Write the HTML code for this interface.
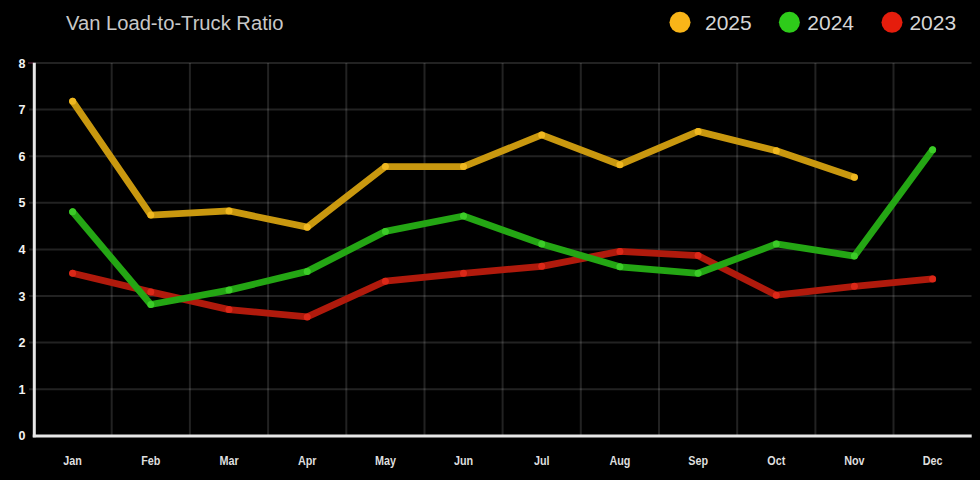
<!DOCTYPE html>
<html><head><meta charset="utf-8"><style>
html,body{margin:0;padding:0;background:#000;width:980px;height:480px;overflow:hidden}
svg{display:block}
text{font-family:"Liberation Sans",sans-serif}
</style></head><body>
<svg width="980" height="480" viewBox="0 0 980 480">
<rect width="980" height="480" fill="#000"/>
<g transform="translate(66,0) scale(0.961,1)"><text x="0" y="30.2" font-size="21" fill="#c8c8c8">Van Load-to-Truck Ratio</text></g>
<circle cx="680" cy="22.3" r="10.5" fill="#f9b518"/>
<text x="705" y="30.3" font-size="21" fill="#d6d6d6">2025</text>
<circle cx="789.4" cy="22.3" r="10.5" fill="#2ecb1a"/>
<text x="807.3" y="30.3" font-size="21" fill="#d6d6d6">2024</text>
<circle cx="892" cy="22.3" r="10.5" fill="#e51d0c"/>
<text x="909.4" y="30.3" font-size="21" fill="#d6d6d6">2023</text>
<g stroke="#ffffff" stroke-opacity="0.135" stroke-width="2"><line x1="29" y1="389.2" x2="971.5" y2="389.2"/><line x1="29" y1="342.6" x2="971.5" y2="342.6"/><line x1="29" y1="296.0" x2="971.5" y2="296.0"/><line x1="29" y1="249.4" x2="971.5" y2="249.4"/><line x1="29" y1="202.8" x2="971.5" y2="202.8"/><line x1="29" y1="156.2" x2="971.5" y2="156.2"/><line x1="29" y1="109.6" x2="971.5" y2="109.6"/><line x1="29" y1="63.0" x2="971.5" y2="63.0"/><line x1="111.7" y1="63" x2="111.7" y2="436"/><line x1="189.9" y1="63" x2="189.9" y2="436"/><line x1="268.1" y1="63" x2="268.1" y2="436"/><line x1="346.3" y1="63" x2="346.3" y2="436"/><line x1="424.5" y1="63" x2="424.5" y2="436"/><line x1="502.6" y1="63" x2="502.6" y2="436"/><line x1="580.8" y1="63" x2="580.8" y2="436"/><line x1="659.0" y1="63" x2="659.0" y2="436"/><line x1="737.2" y1="63" x2="737.2" y2="436"/><line x1="815.4" y1="63" x2="815.4" y2="436"/><line x1="893.5" y1="63" x2="893.5" y2="436"/></g>
<g fill="#f2f2f2" font-size="12.5" font-weight="bold" text-anchor="end"><text x="25.5" y="440.3">0</text><text x="25.5" y="393.7">1</text><text x="25.5" y="347.1">2</text><text x="25.5" y="300.5">3</text><text x="25.5" y="253.9">4</text><text x="25.5" y="207.3">5</text><text x="25.5" y="160.7">6</text><text x="25.5" y="114.1">7</text><text x="25.5" y="67.5">8</text></g>
<g fill="#dedede" font-size="12" font-weight="bold" text-anchor="middle"><text transform="translate(72.6,464.6) scale(0.9,1)">Jan</text><text transform="translate(150.8,464.6) scale(0.9,1)">Feb</text><text transform="translate(229.0,464.6) scale(0.9,1)">Mar</text><text transform="translate(307.2,464.6) scale(0.9,1)">Apr</text><text transform="translate(385.4,464.6) scale(0.9,1)">May</text><text transform="translate(463.5,464.6) scale(0.9,1)">Jun</text><text transform="translate(541.7,464.6) scale(0.9,1)">Jul</text><text transform="translate(619.9,464.6) scale(0.9,1)">Aug</text><text transform="translate(698.1,464.6) scale(0.9,1)">Sep</text><text transform="translate(776.3,464.6) scale(0.9,1)">Oct</text><text transform="translate(854.4,464.6) scale(0.9,1)">Nov</text><text transform="translate(932.6,464.6) scale(0.9,1)">Dec</text></g>
<line x1="28" y1="63" x2="34" y2="63" stroke="#3a1828" stroke-width="2"/>
<line x1="34.3" y1="62.8" x2="34.3" y2="437.3" stroke="#e8e8e8" stroke-width="3"/>
<line x1="32.8" y1="435.9" x2="971.7" y2="435.9" stroke="#e8e8e8" stroke-width="3"/>
<g fill="none" stroke-width="6.8" stroke-linejoin="round" stroke-linecap="round">
<polyline points="72.6,273.3 150.8,291.9 229.0,309.6 307.2,316.9 385.4,281.2 463.5,273.3 541.7,266.3 619.9,251.4 698.1,255.6 776.3,295.2 854.4,286.3 932.6,278.9" stroke="#b01a0c"/>
</g>
<circle cx="72.6" cy="273.3" r="3.5" fill="#dc2818"/><circle cx="150.8" cy="291.9" r="3.5" fill="#dc2818"/><circle cx="229.0" cy="309.6" r="3.5" fill="#dc2818"/><circle cx="307.2" cy="316.9" r="3.5" fill="#dc2818"/><circle cx="385.4" cy="281.2" r="3.5" fill="#dc2818"/><circle cx="463.5" cy="273.3" r="3.5" fill="#dc2818"/><circle cx="541.7" cy="266.3" r="3.5" fill="#dc2818"/><circle cx="619.9" cy="251.4" r="3.5" fill="#dc2818"/><circle cx="698.1" cy="255.6" r="3.5" fill="#dc2818"/><circle cx="776.3" cy="295.2" r="3.5" fill="#dc2818"/><circle cx="854.4" cy="286.3" r="3.5" fill="#dc2818"/><circle cx="932.6" cy="278.9" r="3.5" fill="#dc2818"/>
<g fill="none" stroke-width="6.8" stroke-linejoin="round" stroke-linecap="round">
<polyline points="72.6,211.8 150.8,304.5 229.0,290.1 307.2,271.4 385.4,231.4 463.5,216.0 541.7,243.9 619.9,266.8 698.1,273.3 776.3,243.9 854.4,256.1 932.6,149.8" stroke="#24a614"/>
</g>
<circle cx="72.6" cy="211.8" r="3.5" fill="#3ccc28"/><circle cx="150.8" cy="304.5" r="3.5" fill="#3ccc28"/><circle cx="229.0" cy="290.1" r="3.5" fill="#3ccc28"/><circle cx="307.2" cy="271.4" r="3.5" fill="#3ccc28"/><circle cx="385.4" cy="231.4" r="3.5" fill="#3ccc28"/><circle cx="463.5" cy="216.0" r="3.5" fill="#3ccc28"/><circle cx="541.7" cy="243.9" r="3.5" fill="#3ccc28"/><circle cx="619.9" cy="266.8" r="3.5" fill="#3ccc28"/><circle cx="698.1" cy="273.3" r="3.5" fill="#3ccc28"/><circle cx="776.3" cy="243.9" r="3.5" fill="#3ccc28"/><circle cx="854.4" cy="256.1" r="3.5" fill="#3ccc28"/><circle cx="932.6" cy="149.8" r="3.5" fill="#3ccc28"/>
<g fill="none" stroke-width="6.8" stroke-linejoin="round" stroke-linecap="round">
<polyline points="72.6,101.3 150.8,215.1 229.0,210.9 307.2,227.2 385.4,166.6 463.5,166.6 541.7,134.9 619.9,164.7 698.1,131.4 776.3,150.7 854.4,177.3" stroke="#c9980f"/>
</g>
<circle cx="72.6" cy="101.3" r="3.5" fill="#f0b820"/><circle cx="150.8" cy="215.1" r="3.5" fill="#f0b820"/><circle cx="229.0" cy="210.9" r="3.5" fill="#f0b820"/><circle cx="307.2" cy="227.2" r="3.5" fill="#f0b820"/><circle cx="385.4" cy="166.6" r="3.5" fill="#f0b820"/><circle cx="463.5" cy="166.6" r="3.5" fill="#f0b820"/><circle cx="541.7" cy="134.9" r="3.5" fill="#f0b820"/><circle cx="619.9" cy="164.7" r="3.5" fill="#f0b820"/><circle cx="698.1" cy="131.4" r="3.5" fill="#f0b820"/><circle cx="776.3" cy="150.7" r="3.5" fill="#f0b820"/><circle cx="854.4" cy="177.3" r="3.5" fill="#f0b820"/>
</svg>
</body></html>
